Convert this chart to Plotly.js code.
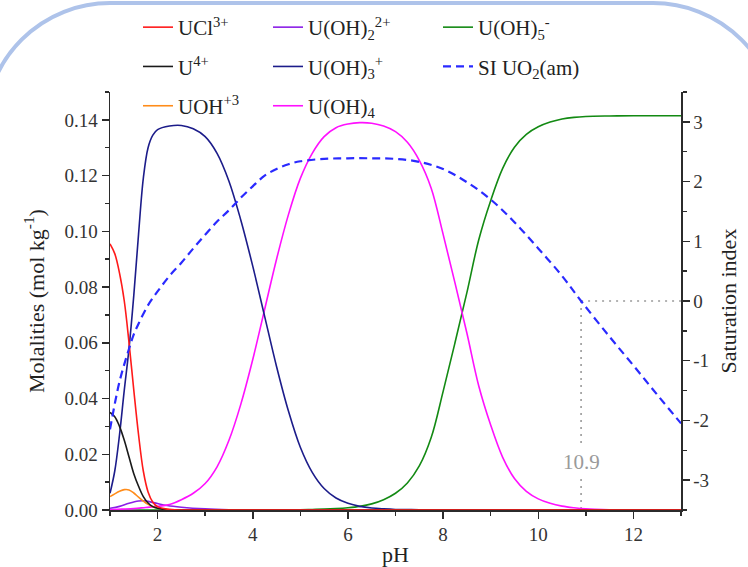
<!DOCTYPE html>
<html>
<head>
<meta charset="utf-8">
<script src="https://cdn.plot.ly/plotly-3.0.1.min.js"></script>
<style>
  html, body { margin: 0; padding: 0; background: #ffffff; }
  #wrap { position: relative; width: 748px; height: 567px; overflow: hidden; background: #ffffff; }
  #frame { position: absolute; left: -17px; top: 1px; width: 797px; height: 700px;
           border: 4px solid #aec3ea; border-radius: 127px; box-sizing: border-box; z-index: 0; }
  #chart { position: absolute; left: 0; top: 0; width: 748px; height: 567px; z-index: 1; }
</style>
</head>
<body>
<div id="wrap">
  <div id="frame"></div>
  <div id="chart"></div>
</div>
<script>
// ---- Data ----
// UCl3+, U4+, UOH+3 share one pH grid
const phLow   = [1.0, 1.1, 1.2, 1.3, 1.4, 1.5, 1.6, 1.7, 1.8, 1.9, 2.0, 2.2, 2.5, 3.0, 13.0];
const mUCl    = [0.0955, 0.092, 0.085, 0.075, 0.060, 0.043, 0.027, 0.014, 0.0065, 0.0028, 0.0012, 0.0003, 0, 0, 0];
const mU4     = [0.035, 0.0335, 0.030, 0.025, 0.019, 0.013, 0.0085, 0.0048, 0.0025, 0.0012, 0.0006, 0.0001, 0, 0, 0];
const mUOH    = [0.0048, 0.0058, 0.0067, 0.0073, 0.0072, 0.0061, 0.0046, 0.0032, 0.002, 0.0012, 0.0007, 0.0002, 0, 0, 0];

const phOH2   = [1.0, 1.2, 1.4, 1.6, 1.7, 1.8, 2.0, 2.2, 2.5, 3.0, 3.5, 4.0, 5.0, 13.0];
const mOH2    = [0.0006, 0.0013, 0.0024, 0.0032, 0.0033, 0.0031, 0.0023, 0.0016, 0.001, 0.0004, 0.0001, 0, 0, 0];

const phOH3   = [1.0, 1.1, 1.2, 1.3, 1.4, 1.5, 1.6, 1.7, 1.8, 1.9, 2.0, 2.25, 2.5, 2.75, 3.0, 3.25, 3.5, 3.75, 4.0, 4.25, 4.5, 4.75, 5.0, 5.25, 5.5, 5.75, 6.0, 6.25, 6.5, 6.75, 7.0, 7.5, 8.0, 13.0];
const mOH3    = [0.006, 0.014, 0.027, 0.043, 0.058, 0.077, 0.099, 0.119, 0.130, 0.1345, 0.1365, 0.1378, 0.138, 0.1368, 0.134, 0.128, 0.118, 0.104, 0.0875, 0.0695, 0.0515, 0.0355, 0.0225, 0.0135, 0.0077, 0.0043, 0.0024, 0.0013, 0.0007, 0.0004, 0.0002, 0.0001, 0, 0];

const phOH4   = [1.0, 1.25, 1.5, 1.75, 2.0, 2.25, 2.5, 2.75, 3.0, 3.25, 3.5, 3.75, 4.0, 4.25, 4.5, 4.75, 5.0, 5.25, 5.5, 5.75, 6.0, 6.25, 6.5, 6.75, 7.0, 7.25, 7.5, 7.75, 8.0, 8.25, 8.5, 8.75, 9.0, 9.25, 9.5, 9.75, 10.0, 10.25, 10.5, 10.75, 11.0, 11.5, 12.0, 13.0];
const mOH4    = [0.0001, 0.0003, 0.0005, 0.0009, 0.0013, 0.002, 0.0037, 0.006, 0.0095, 0.0155, 0.025, 0.038, 0.054, 0.072, 0.090, 0.106, 0.119, 0.128, 0.134, 0.1372, 0.1385, 0.139, 0.1388, 0.1378, 0.1358, 0.132, 0.1255, 0.1155, 0.099, 0.0815, 0.0635, 0.0445, 0.0305, 0.019, 0.0113, 0.0067, 0.004, 0.0024, 0.0014, 0.0008, 0.0004, 0.0001, 0, 0];

const phOH5   = [1.0, 4.0, 5.0, 5.25, 5.5, 5.75, 6.0, 6.25, 6.5, 6.75, 7.0, 7.25, 7.5, 7.75, 8.0, 8.25, 8.5, 8.75, 9.0, 9.25, 9.5, 9.75, 10.0, 10.25, 10.5, 10.75, 11.0, 11.5, 12.0, 13.0];
const mOH5    = [0, 0, 0.0001, 0.0002, 0.0003, 0.0005, 0.0008, 0.0013, 0.0022, 0.0037, 0.006, 0.0097, 0.0158, 0.026, 0.0425, 0.060, 0.078, 0.097, 0.111, 0.1225, 0.1302, 0.1348, 0.1375, 0.1392, 0.1403, 0.1409, 0.1412, 0.1414, 0.1415, 0.1415];

const phSI    = [1.0, 1.2, 1.4, 1.5, 1.6, 1.8, 2.0, 2.25, 2.5, 2.75, 3.0, 3.25, 3.5, 3.75, 4.0, 4.25, 4.5, 4.75, 5.0, 5.5, 6.0, 6.5, 7.0, 7.5, 8.0, 8.5, 9.0, 9.5, 10.0, 10.5, 10.9, 11.5, 12.0, 12.5, 13.0];
const siUO2   = [-2.15, -1.35, -0.8, -0.56, -0.38, -0.07, 0.16, 0.42, 0.64, 0.88, 1.11, 1.33, 1.52, 1.73, 1.92, 2.10, 2.21, 2.29, 2.34, 2.38, 2.39, 2.39, 2.38, 2.33, 2.21, 1.99, 1.70, 1.32, 0.88, 0.42, 0.0, -0.6, -1.08, -1.57, -2.05];

// SI = 0 crossing marker
const siZeroPH    = 10.9;
const siZeroLabel = '10.9';

// Tick labels
const xTickVals   = [2, 4, 6, 8, 10, 12];
const xTickText   = ['2', '4', '6', '8', '10', '12'];
const yTickVals   = [0, 0.02, 0.04, 0.06, 0.08, 0.10, 0.12, 0.14];
const yTickText   = ['0.00', '0.02', '0.04', '0.06', '0.08', '0.10', '0.12', '0.14'];
const siTickVals  = [-3, -2, -1, 0, 1, 2, 3];
const siTickText  = ['-3', '-2', '-1', '0', '1', '2', '3'];

// ---- Styling ----
const FONT = 'Liberation Serif, Times New Roman, serif';
const AX = '#2b2b2b';
const LW = 1.6;

// Layout geometry (pixels): plot box 110..681 horizontally, 92..510 vertically
const W = 748, H = 567;
const M = { l: 110, r: 67, t: 5, b: 57 };
const paperW = W - M.l - M.r, paperH = H - M.t - M.b;
const plotTopPx = 92;
const yDomainTop = (H - M.b - plotTopPx) / paperH;
const px2paperX = px => (px - M.l) / paperW;
const px2paperY = py => (H - M.b - py) / paperH;

function line(name, x, y, color, legend, rank, extra) {
  return Object.assign({
    type: 'scatter', mode: 'lines', name: name, x: x, y: y,
    line: { color: color, width: LW, shape: 'spline', smoothing: 1 },
    legend: legend, legendgroup: name, legendrank: rank,
    cliponaxis: false, hoverinfo: 'x+y+name'
  }, extra || {});
}

const traces = [
  line('U(OH)<sub>5</sub><sup>-</sup>', phOH5, mOH5, '#138a13', 'legend3', 1),
  line('U(OH)<sub>2</sub><sup>2+</sup>', phOH2, mOH2, '#8b1fe6', 'legend2', 1),
  line('U(OH)<sub>4</sub>', phOH4, mOH4, '#ff10ff', 'legend2', 3),
  line('U(OH)<sub>3</sub><sup>+</sup>', phOH3, mOH3, '#1c1c8a', 'legend2', 2),
  line('UOH<sup>+3</sup>', phLow, mUOH, '#ff8c1a', 'legend', 3),
  line('U<sup>4+</sup>', phLow, mU4, '#1a1a1a', 'legend', 2),
  line('UCl<sup>3+</sup>', phLow, mUCl, '#ff1a1a', 'legend', 1),
  line('SI UO<sub>2</sub>(am)', phSI, siUO2, '#2a2aff', 'legend3', 2,
       { yaxis: 'y2', line: { color: '#2a2aff', width: 2.2, dash: '8px,5px', shape: 'spline', smoothing: 1 } })
];

const legendBase = {
  xanchor: 'left', yanchor: 'top', y: px2paperY(7),
  font: { family: FONT, size: 21, color: '#222' },
  bgcolor: 'rgba(0,0,0,0)', borderwidth: 0,
  traceorder: 'grouped', tracegroupgap: 9, orientation: 'v'
};

const dotGray = { color: '#9a9a9a', width: 1.6, dash: '2px,5px' };

function axisTitle(text, standoff) {
  return { text: text, font: { family: FONT, size: 22, color: '#222' }, standoff: standoff };
}
const tickFont = { family: FONT, size: 19, color: '#333' };

const layout = {
  width: W, height: H,
  margin: { l: M.l, r: M.r, t: M.t, b: M.b, pad: 0 },
  paper_bgcolor: 'rgba(0,0,0,0)', plot_bgcolor: 'rgba(0,0,0,0)',
  font: { family: FONT, color: '#222' },
  showlegend: true,
  legend:  Object.assign({}, legendBase, { x: px2paperX(138) }),
  legend2: Object.assign({}, legendBase, { x: px2paperX(268) }),
  legend3: Object.assign({}, legendBase, { x: px2paperX(438) }),
  xaxis: {
    range: [1, 13], showgrid: false, zeroline: false,
    showline: true, linecolor: AX, linewidth: 1.5,
    ticks: 'outside', ticklen: 7, tickwidth: 1.5, tickcolor: AX,
    tickmode: 'array', tickvals: xTickVals, ticktext: xTickText,
    minor: { tickmode: 'linear', tick0: 1, dtick: 1, ticks: 'outside', ticklen: 4, tickwidth: 1.5, tickcolor: AX, showgrid: false },
    tickfont: tickFont,
    title: axisTitle('pH', 2),
    automargin: false
  },
  yaxis: {
    domain: [0, yDomainTop],
    range: [0, 0.15], showgrid: false, zeroline: false,
    showline: true, linecolor: AX, linewidth: 1.5,
    ticks: 'outside', ticklen: 7, tickwidth: 1.5, tickcolor: AX,
    tickmode: 'array', tickvals: yTickVals, ticktext: yTickText,
    minor: { tickmode: 'linear', tick0: 0, dtick: 0.01, ticks: 'outside', ticklen: 4, tickwidth: 1.5, tickcolor: AX, showgrid: false },
    tickfont: tickFont,
    title: axisTitle('Molalities (mol kg<sup>-1</sup>)', 14),
    automargin: false
  },
  yaxis2: {
    overlaying: 'y', side: 'right', anchor: 'x',
    range: [-3.5, 3.5], showgrid: false, zeroline: false,
    showline: true, linecolor: AX, linewidth: 1.5,
    ticks: 'outside', ticklen: 7, tickwidth: 1.5, tickcolor: AX,
    tickmode: 'array', tickvals: siTickVals, ticktext: siTickText,
    minor: { tickmode: 'linear', tick0: 0, dtick: 0.5, ticks: 'outside', ticklen: 4, tickwidth: 1.5, tickcolor: AX, showgrid: false },
    tickfont: tickFont,
    title: axisTitle('Saturation index', 12),
    automargin: false
  },
  shapes: [
    { type: 'line', xref: 'x', yref: 'y2', x0: siZeroPH, x1: 13, y0: 0, y1: 0, line: dotGray, layer: 'below' },
    { type: 'line', xref: 'x', yref: 'y2', x0: siZeroPH, x1: siZeroPH, y0: 0, y1: -2.4, line: dotGray, layer: 'below' },
    { type: 'line', xref: 'x', yref: 'y2', x0: siZeroPH, x1: siZeroPH, y0: -2.98, y1: -3.5, line: dotGray, layer: 'below' }
  ],
  annotations: [
    { xref: 'x', yref: 'y2', x: siZeroPH, y: -2.69, text: siZeroLabel, showarrow: false,
      xanchor: 'center', yanchor: 'middle', font: { family: FONT, size: 21, color: '#9a9a9a' } }
  ]
};

Plotly.newPlot('chart', traces, layout, { displayModeBar: false, staticPlot: true });
</script>
</body>
</html>
